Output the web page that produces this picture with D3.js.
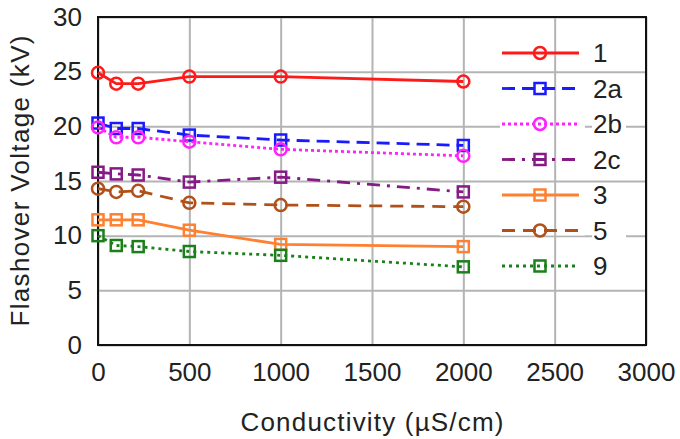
<!DOCTYPE html>
<html>
<head>
<meta charset="utf-8">
<script src="https://cdn.jsdelivr.net/npm/d3@7"></script>
<style>
  html, body { margin: 0; padding: 0; background: #fff; }
  svg { display: block; }
  text { font-family: "Liberation Sans", Arial, sans-serif; fill: #222; }
</style>
</head>
<body>
<svg id="chart" width="680" height="439"></svg>
<script>
// ---- data ----
const conductivity = [0, 100, 220, 500, 1000, 2000];
const seriesNames = ["1", "2a", "2b", "2c", "3", "5", "9"];
const s1  = [24.9, 23.9, 23.9, 24.55, 24.55, 24.1];
const s2a = [20.3, 19.8, 19.8, 19.2, 18.75, 18.25];
const s2b = [19.9, 19.0, 19.0, 18.6, 17.9, 17.3];
const s2c = [15.8, 15.65, 15.55, 14.9, 15.35, 14.0];
const s3  = [11.45, 11.45, 11.45, 10.5, 9.2, 9.0];
const s5  = [14.3, 14.0, 14.1, 13.0, 12.8, 12.65];
const s9  = [10.0, 9.1, 9.0, 8.55, 8.2, 7.15];
const xTicks = [0, 500, 1000, 1500, 2000, 2500, 3000];
const yTicks = [0, 5, 10, 15, 20, 25, 30];
const xTitle = "Conductivity (µS/cm)";
const yTitle = "Flashover Voltage (kV)";

// ---- styles ----
const styles = {
  "1":  {color: "#ff1a1a", dash: null,           marker: "circle"},
  "2a": {color: "#1a1aff", dash: "13,7",         marker: "square"},
  "2b": {color: "#ff22ff", dash: "3,3",          marker: "circle"},
  "2c": {color: "#861a86", dash: "13,7,3,7",     marker: "square"},
  "3":  {color: "#ff8030", dash: null,           marker: "square"},
  "5":  {color: "#b0501a", dash: "13,8",         marker: "circle"},
  "9":  {color: "#1a801a", dash: "3,4",          marker: "square"}
};
const seriesValues = [s1, s2a, s2b, s2c, s3, s5, s9];
const series = seriesNames.map((n, i) => ({
  name: n,
  points: conductivity.map((c, j) => ({x: c, y: seriesValues[i][j]}))
}));

const margin = {left: 98, top: 17, right: 34, bottom: 94};
const W = 680, H = 439;
const width = W - margin.left - margin.right;   // 548
const height = H - margin.top - margin.bottom;  // 328

const svg = d3.select("#chart");
const g = svg.append("g").attr("transform", `translate(${margin.left},${margin.top})`);

const x = d3.scaleLinear().domain([0, 3000]).range([0, width]);
const y = d3.scaleLinear().domain([0, 30]).range([height, 0]);

const gridColor = "#b4b4b4";

// horizontal grid + y labels
const yAxis = g.append("g")
  .call(d3.axisLeft(y).tickValues(yTicks).tickSize(-width).tickPadding(16).tickFormat(d3.format("d")));
yAxis.select(".domain").remove();
yAxis.selectAll(".tick line").attr("stroke", gridColor).attr("stroke-width", 2);
yAxis.selectAll(".tick text").attr("font-size", 26).style("font-family", "Liberation Sans, Arial, sans-serif").attr("fill", "#222");

// legend geometry
const legX0 = 502 - margin.left, legX1 = 579 - margin.left, legMark = 540 - margin.left;
const legText = 593 - margin.left;
const legY = i => 53 - margin.top + i * 35.5;

// white masks behind legend entries (hide horizontal grid)
const legMask = g.append("g");
seriesNames.forEach((n, i) => {
  legMask.append("rect").attr("x", legX0 - 2).attr("y", legY(i) - 5).attr("width", legX1 - legX0 + 8).attr("height", 10).attr("fill", "#fff");
  legMask.append("rect").attr("x", legText - 1).attr("y", legY(i) - 12).attr("width", 34).attr("height", 24).attr("fill", "#fff");
});

// vertical grid + x labels
const xAxis = g.append("g").attr("transform", `translate(0,${height})`)
  .call(d3.axisBottom(x).tickValues(xTicks).tickSize(-height).tickPadding(18).tickFormat(d3.format("d")));
xAxis.select(".domain").remove();
xAxis.selectAll(".tick line").attr("stroke", gridColor).attr("stroke-width", 2);
xAxis.selectAll(".tick text").attr("font-size", 26).style("font-family", "Liberation Sans, Arial, sans-serif").attr("fill", "#222");

// frame
g.append("rect").attr("x", 0).attr("y", 0).attr("width", width).attr("height", height)
  .attr("fill", "none").attr("stroke", "#111").attr("stroke-width", 2);

// series
const line = d3.line().x(d => x(d.x)).y(d => y(d.y));
function drawMarker(sel, type, cx, cy, color) {
  if (type === "circle") {
    sel.append("circle").attr("cx", cx).attr("cy", cy).attr("r", 6)
      .attr("fill", "none").attr("stroke", color).attr("stroke-width", 2.5);
  } else {
    sel.append("rect").attr("x", cx - 5.5).attr("y", cy - 5.5).attr("width", 11).attr("height", 11)
      .attr("fill", "none").attr("stroke", color).attr("stroke-width", 2.5);
  }
}
series.forEach(s => {
  const st = styles[s.name];
  const sg = g.append("g");
  sg.append("path").datum(s.points).attr("d", line)
    .attr("fill", "none").attr("stroke", st.color).attr("stroke-width", 2.8)
    .attr("stroke-dasharray", st.dash);
  s.points.forEach(p => drawMarker(sg, st.marker, x(p.x), y(p.y), st.color));
});

// legend
series.forEach((s, i) => {
  const st = styles[s.name];
  const lg = g.append("g");
  lg.append("line").attr("x1", legX0).attr("x2", legX1).attr("y1", legY(i)).attr("y2", legY(i))
    .attr("stroke", st.color).attr("stroke-width", 2.8).attr("stroke-dasharray", st.dash);
  drawMarker(lg, st.marker, legMark, legY(i), st.color);
  lg.append("text").attr("x", legText).attr("y", legY(i)).attr("dy", "0.35em")
    .attr("font-size", 26).text(s.name);
});

// axis titles
svg.append("text").attr("x", margin.left + width / 2).attr("y", 431)
  .attr("text-anchor", "middle").attr("font-size", 26)
  .attr("textLength", 263).attr("lengthAdjust", "spacing").text(xTitle);
svg.append("text").attr("transform", `translate(29,${margin.top + height / 2}) rotate(-90)`)
  .attr("text-anchor", "middle").attr("font-size", 26)
  .attr("textLength", 291).attr("lengthAdjust", "spacing").text(yTitle);
</script>
</body>
</html>
